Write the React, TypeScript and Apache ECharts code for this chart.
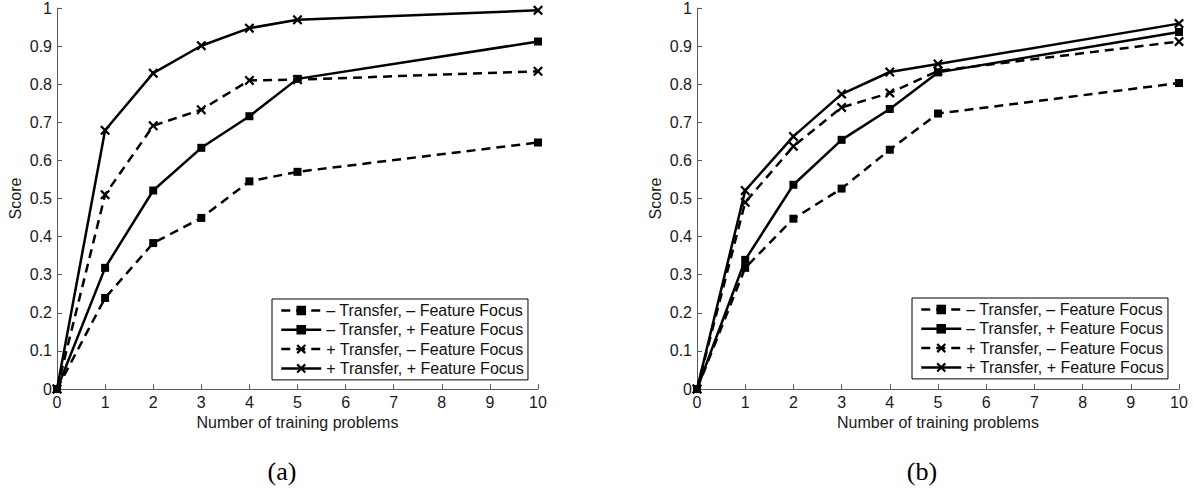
import React, { useEffect, useRef } from "react";
import * as echarts from "echarts";

const xValues = [0, 1, 2, 3, 4, 5, 10];
const seriesNames = [
  "– Transfer, – Feature Focus",
  "– Transfer, + Feature Focus",
  "+ Transfer, – Feature Focus",
  "+ Transfer, + Feature Focus",
];
// Panel (a)
const aNoTNoFF = [0, 0.239, 0.383, 0.449, 0.545, 0.57, 0.647];
const aNoTFF = [0, 0.318, 0.521, 0.633, 0.716, 0.814, 0.912];
const aTNoFF = [0, 0.51, 0.691, 0.733, 0.81, 0.812, 0.834];
const aTFF = [0, 0.679, 0.829, 0.901, 0.947, 0.969, 0.994];
// Panel (b)
const bNoTNoFF = [0, 0.318, 0.447, 0.526, 0.628, 0.723, 0.803];
const bNoTFF = [0, 0.339, 0.536, 0.654, 0.735, 0.831, 0.937];
const bTNoFF = [0, 0.49, 0.637, 0.739, 0.777, 0.835, 0.912];
const bTFF = [0, 0.521, 0.663, 0.774, 0.832, 0.853, 0.959];

const xTicks = [0, 1, 2, 3, 4, 5, 6, 7, 8, 9, 10];
const captions = ["(a)", "(b)"];

const FONT = "Liberation Sans, Arial, Helvetica, sans-serif";
const XSYM =
  "path://M0,1.6 L1.6,0 L5,3.4 L8.4,0 L10,1.6 L6.6,5 L10,8.4 L8.4,10 L5,6.6 L1.6,10 L0,8.4 L3.4,5 Z";

export default function App() {
  const ref = useRef<HTMLDivElement>(null);
  useEffect(() => {
    if (!ref.current) return;
    const chart = echarts.init(ref.current, null, { renderer: "svg" });
    const panels = [
      [aNoTNoFF, aNoTFF, aTNoFF, aTFF],
      [bNoTNoFF, bNoTFF, bTNoFF, bTFF],
    ];
    const grids = [
      { left: 57, top: 8, width: 481, height: 381 },
      { left: 697, top: 8, width: 482, height: 381 },
    ];
    const axisColor = "#5a5a5a";
    const xAxes = grids.map((_, i) => ({
      type: "value",
      gridIndex: i,
      min: xTicks[0],
      max: xTicks[xTicks.length - 1],
      interval: 1,
      name: "Number of training problems",
      nameLocation: "middle",
      nameGap: 24,
      nameTextStyle: { fontFamily: FONT, fontSize: 16, color: "#1a1a1a" },
      axisLine: { show: true, lineStyle: { color: axisColor, width: 1 } },
      axisTick: { show: true, inside: true, length: 5, lineStyle: { color: axisColor } },
      axisLabel: { fontFamily: FONT, fontSize: 16, color: "#1a1a1a", margin: 5 },
      splitLine: { show: false },
    }));
    const yAxes = grids.map((_, i) => ({
      type: "value",
      gridIndex: i,
      min: 0,
      max: 1,
      interval: 0.1,
      name: "Score",
      nameLocation: "middle",
      nameGap: 34,
      nameTextStyle: { fontFamily: FONT, fontSize: 16, color: "#1a1a1a" },
      axisLine: { show: true, lineStyle: { color: axisColor, width: 1 } },
      axisTick: { show: true, inside: true, length: 5, lineStyle: { color: axisColor } },
      axisLabel: { fontFamily: FONT, fontSize: 16, color: "#1a1a1a", margin: 5 },
      splitLine: { show: false },
    }));
    const series: any[] = [];
    panels.forEach((vals, p) => {
      vals.forEach((v, s) => {
        const dashed = s === 0 || s === 2;
        const isX = s >= 2;
        series.push({
          type: "line",
          name: seriesNames[s],
          xAxisIndex: p,
          yAxisIndex: p,
          data: xValues.map((x, k) => [x, v[k]]),
          symbol: isX ? XSYM : "rect",
          symbolSize: isX ? 10 : 8,
          showSymbol: true,
          clip: false,
          lineStyle: { color: "#000", width: 2.5, type: dashed ? [9, 6] : "solid" },
          itemStyle: { color: "#000" },
          emphasis: { disabled: true },
          z: 2 + s,
        });
      });
    });
    const legends = [
      { left: 272, top: 299 },
      { left: 912, top: 298 },
    ].map((pos) => ({
      ...pos,
      orient: "vertical",
      data: seriesNames,
      itemWidth: 40,
      itemHeight: 12,
      itemGap: 0.3,
      padding: [2, 4, 2, 8],
      borderColor: "#000",
      borderWidth: 1,
      backgroundColor: "#fff",
      lineStyle: { width: 2.5 },
      textStyle: { fontFamily: FONT, fontSize: 16, lineHeight: 19, color: "#111" },
      selectedMode: false,
    }));
    chart.setOption({
      animation: false,
      backgroundColor: "#fff",
      grid: grids.map((g) => ({ ...g, containLabel: false })),
      xAxis: xAxes,
      yAxis: yAxes,
      legend: legends,
      series,
      graphic: captions.map((c, i) => ({
        type: "text",
        x: i === 0 ? 282 : 922,
        y: 471,
        style: {
          text: c,
          fontFamily: "Liberation Serif, Times New Roman, serif",
          fontSize: 26,
          fill: "#000",
          align: "center",
          verticalAlign: "middle",
        },
      })),
    });
    return () => chart.dispose();
  }, []);
  return (
    <div
      ref={ref}
      style={{ position: "fixed", left: 0, top: 0, width: 1194, height: 491 }}
    />
  );
}
